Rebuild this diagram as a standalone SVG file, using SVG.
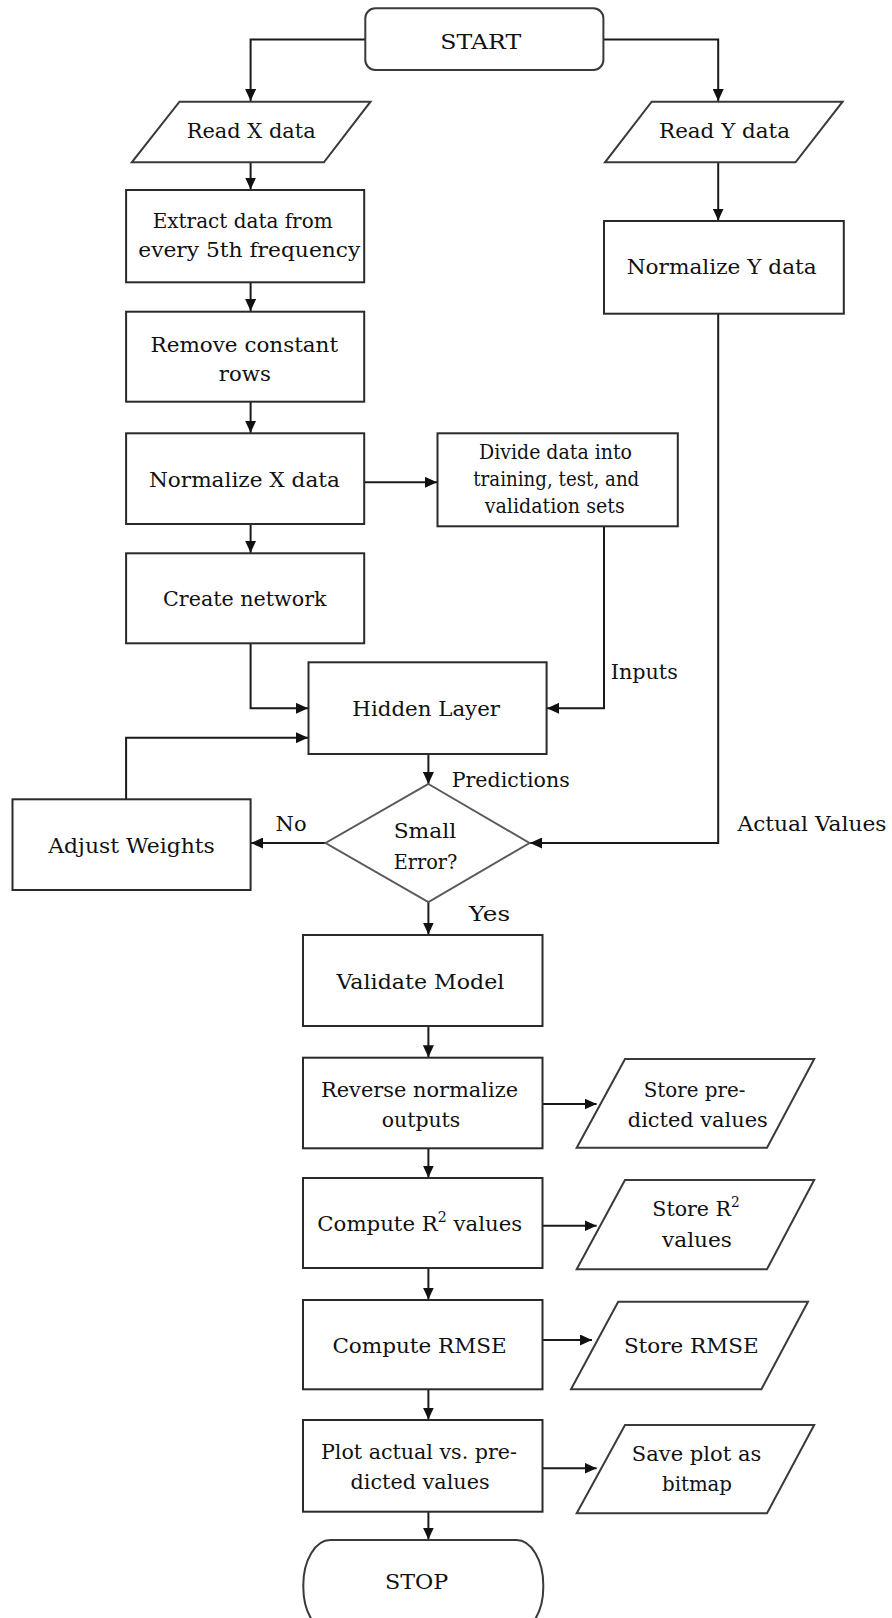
<svg xmlns="http://www.w3.org/2000/svg" width="892" height="1618" viewBox="0 0 892 1618">
  <style>
    .box { fill: #ffffff; stroke: #2a2a2a; stroke-width: 2; }
    .io { fill: #ffffff; stroke: #3a3a3a; stroke-width: 2; stroke-linejoin: miter; }
    .dec { fill: #ffffff; stroke: #5a5a5a; stroke-width: 2; }
    .term { fill: #ffffff; stroke: #3a3a3a; stroke-width: 2; }
    .wire { fill: none; stroke: #1a1a1a; stroke-width: 2; marker-end: url(#head); }
    text { font-family: "DejaVu Serif", "Liberation Serif", serif; font-size: 21px; fill: #111111; }
    .sup { font-size: 14px; }
  </style>
  <defs>
    <marker id="head" markerUnits="userSpaceOnUse" markerWidth="13" markerHeight="11" refX="12" refY="5.5" orient="auto">
      <path d="M0,0 L12,5.5 L0,11 Z" fill="#111111"/>
    </marker>
  </defs>

  <rect width="892" height="1618" fill="#ffffff"/>

  <!-- connectors -->
  <g id="connectors">
    <path class="wire" d="M365,39.5 H250.6 V101"/>
    <path class="wire" d="M603.4,39.5 H718.2 V101"/>
    <path class="wire" d="M250.6,162.3 V189.5"/>
    <path class="wire" d="M250.6,282.3 V311"/>
    <path class="wire" d="M250.6,401.7 V432.8"/>
    <path class="wire" d="M250.6,524 V552.8"/>
    <path class="wire" d="M364.2,482.3 H437"/>
    <path class="wire" d="M718.2,162.3 V220.5"/>
    <path class="wire" d="M250.6,643.3 V708.3 H308"/>
    <path class="wire" d="M604,526.3 V708.3 H547"/>
    <path class="wire" d="M126.1,799.3 V737.7 H308"/>
    <path class="wire" d="M428.4,754 V784"/>
    <path class="wire" d="M325.6,843 H251"/>
    <path class="wire" d="M718.2,313.7 V843 H530"/>
    <path class="wire" d="M428.4,902 V934.5"/>
    <path class="wire" d="M428.4,1026 V1057.2"/>
    <path class="wire" d="M542.5,1104 H596.6"/>
    <path class="wire" d="M428.4,1148.3 V1177.6"/>
    <path class="wire" d="M542.5,1225.7 H596.6"/>
    <path class="wire" d="M428.4,1268 V1299.5"/>
    <path class="wire" d="M542.5,1340 H592"/>
    <path class="wire" d="M428.4,1389.3 V1419.5"/>
    <path class="wire" d="M542.5,1468.3 H596.6"/>
    <path class="wire" d="M428.4,1511.7 V1539.5"/>
  </g>

  <!-- connector labels -->
  <g id="labels">
    <text x="610.8" y="679" textLength="67" lengthAdjust="spacingAndGlyphs">Inputs</text>
    <text x="451.7" y="787" textLength="118" lengthAdjust="spacingAndGlyphs">Predictions</text>
    <text x="275.6" y="831" textLength="31" lengthAdjust="spacingAndGlyphs">No</text>
    <text x="737.5" y="831" textLength="149" lengthAdjust="spacingAndGlyphs">Actual Values</text>
    <text x="468.7" y="921" textLength="41.5" lengthAdjust="spacingAndGlyphs">Yes</text>
  </g>

  <g id="start">
    <rect class="term" x="365.3" y="8.3" width="238.1" height="61.7" rx="10" ry="10"/>
    <text x="440.3" y="48.5" textLength="81" lengthAdjust="spacingAndGlyphs">START</text>
  </g>

  <g id="read-x">
    <polygon class="io" points="179.5,101.7 370.5,101.7 323.9,162.3 131.8,162.3"/>
    <text x="186.7" y="138.3" textLength="129" lengthAdjust="spacingAndGlyphs">Read X data</text>
  </g>

  <g id="read-y">
    <polygon class="io" points="651.7,101.7 842.6,101.7 795.5,162.3 605,162.3"/>
    <text x="659" y="138.3" textLength="131" lengthAdjust="spacingAndGlyphs">Read Y data</text>
  </g>

  <g id="extract">
    <rect class="box" x="126.1" y="190" width="238.1" height="92.3"/>
    <text x="152.7" y="228.3" textLength="180" lengthAdjust="spacingAndGlyphs">Extract data from</text>
    <text x="138.3" y="257.3" textLength="222" lengthAdjust="spacingAndGlyphs">every 5th frequency</text>
  </g>

  <g id="normalize-y">
    <rect class="box" x="604" y="221" width="239.8" height="92.7"/>
    <text x="626.7" y="274" textLength="190" lengthAdjust="spacingAndGlyphs">Normalize Y data</text>
  </g>

  <g id="remove-rows">
    <rect class="box" x="126.1" y="311.7" width="238.1" height="90"/>
    <text x="150.6" y="351.5" textLength="187.5" lengthAdjust="spacingAndGlyphs">Remove constant</text>
    <text x="218.8" y="380.8" textLength="52" lengthAdjust="spacingAndGlyphs">rows</text>
  </g>

  <g id="normalize-x">
    <rect class="box" x="126.1" y="433.3" width="238.1" height="90.7"/>
    <text x="148.9" y="487" textLength="191" lengthAdjust="spacingAndGlyphs">Normalize X data</text>
  </g>

  <g id="divide">
    <rect class="box" x="437.5" y="433.3" width="240.3" height="93"/>
    <text x="479" y="459" textLength="153" lengthAdjust="spacingAndGlyphs">Divide data into</text>
    <text x="473.3" y="486" textLength="166" lengthAdjust="spacingAndGlyphs">training, test, and</text>
    <text x="484.7" y="512.5" textLength="140" lengthAdjust="spacingAndGlyphs">validation sets</text>
  </g>

  <g id="create-network">
    <rect class="box" x="126.1" y="553.3" width="238.1" height="90"/>
    <text x="163" y="606" textLength="163.6" lengthAdjust="spacingAndGlyphs">Create network</text>
  </g>

  <g id="hidden-layer">
    <rect class="box" x="308.5" y="662.3" width="238.1" height="91.7"/>
    <text x="352.3" y="716" textLength="147.7" lengthAdjust="spacingAndGlyphs">Hidden Layer</text>
  </g>

  <g id="adjust-weights">
    <rect class="box" x="12.5" y="799.3" width="238.1" height="90.7"/>
    <text x="48.3" y="852.5" textLength="166.5" lengthAdjust="spacingAndGlyphs">Adjust Weights</text>
  </g>

  <g id="small-error">
    <polygon class="dec" points="428.4,784 529.5,843 428.4,902 325.6,843"/>
    <text x="393.7" y="837.5" textLength="62.5" lengthAdjust="spacingAndGlyphs">Small</text>
    <text x="393.7" y="869" textLength="63.7" lengthAdjust="spacingAndGlyphs">Error?</text>
  </g>

  <g id="validate">
    <rect class="box" x="303" y="935" width="239.5" height="91"/>
    <text x="336.4" y="989" textLength="168" lengthAdjust="spacingAndGlyphs">Validate Model</text>
  </g>

  <g id="reverse-normalize">
    <rect class="box" x="303" y="1057.7" width="239.5" height="90.6"/>
    <text x="321" y="1097" textLength="197" lengthAdjust="spacingAndGlyphs">Reverse normalize</text>
    <text x="381.8" y="1127" textLength="78.4" lengthAdjust="spacingAndGlyphs">outputs</text>
  </g>

  <g id="store-predicted">
    <polygon class="io" points="625,1059 814.2,1059 767,1147.7 576.7,1147.7"/>
    <text x="643.7" y="1097" textLength="101.7" lengthAdjust="spacingAndGlyphs">Store pre-</text>
    <text x="627.8" y="1127" textLength="140" lengthAdjust="spacingAndGlyphs">dicted values</text>
  </g>

  <g id="compute-r2">
    <rect class="box" x="303" y="1178" width="239.5" height="90"/>
    <text x="317.3" y="1231" textLength="205" lengthAdjust="spacingAndGlyphs">Compute R<tspan class="sup" dy="-9">2</tspan><tspan dy="9"> values</tspan></text>
  </g>

  <g id="store-r2">
    <polygon class="io" points="625,1180 814.2,1180 767,1269.3 576.7,1269.3"/>
    <text x="652.3" y="1216" textLength="87.5" lengthAdjust="spacingAndGlyphs">Store R<tspan class="sup" dy="-9">2</tspan></text>
    <text x="662" y="1247" textLength="70" lengthAdjust="spacingAndGlyphs">values</text>
  </g>

  <g id="compute-rmse">
    <rect class="box" x="303" y="1300" width="239.5" height="89.3"/>
    <text x="332.4" y="1352.5" textLength="174.4" lengthAdjust="spacingAndGlyphs">Compute RMSE</text>
  </g>

  <g id="store-rmse">
    <polygon class="io" points="618.2,1301.7 808,1301.7 761.4,1389.3 571,1389.3"/>
    <text x="623.9" y="1352.5" textLength="134.7" lengthAdjust="spacingAndGlyphs">Store RMSE</text>
  </g>

  <g id="plot">
    <rect class="box" x="303" y="1420" width="239.5" height="91.7"/>
    <text x="321" y="1459" textLength="196" lengthAdjust="spacingAndGlyphs">Plot actual vs. pre-</text>
    <text x="350.6" y="1489" textLength="139" lengthAdjust="spacingAndGlyphs">dicted values</text>
  </g>

  <g id="save-plot">
    <polygon class="io" points="625,1425 814.2,1425 767,1513.3 576.7,1513.3"/>
    <text x="631.8" y="1461" textLength="129.5" lengthAdjust="spacingAndGlyphs">Save plot as</text>
    <text x="662" y="1491" textLength="70" lengthAdjust="spacingAndGlyphs">bitmap</text>
  </g>

  <g id="stop">
    <rect class="term" x="303.3" y="1540" width="240" height="92" rx="27" ry="45"/>
    <text x="385" y="1589" textLength="63.3" lengthAdjust="spacingAndGlyphs">STOP</text>
  </g>
</svg>
